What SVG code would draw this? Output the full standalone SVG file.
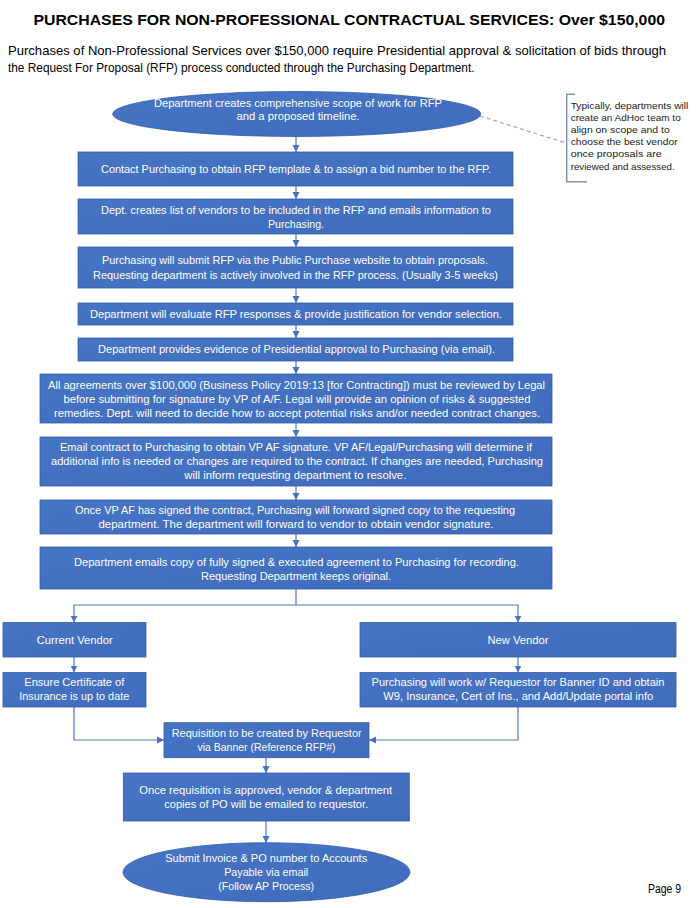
<svg xmlns="http://www.w3.org/2000/svg" width="700" height="908" viewBox="0 0 700 908">
<defs>
<marker id="ah" markerUnits="userSpaceOnUse" markerWidth="8" markerHeight="8" refX="7" refY="4" orient="auto">
<path d="M0,0.5 L7,4 L0,7.5 z" fill="#4472C4"/>
</marker>
<linearGradient id="g" x1="0" y1="0" x2="1" y2="1">
<stop offset="0" stop-color="#4775C6"/>
<stop offset="1" stop-color="#3F6BBC"/>
</linearGradient>
</defs>
<style>
.box{fill:url(#g);stroke:#345DA5;stroke-width:0.8}
.t{font-family:"Liberation Sans",Arial,sans-serif;font-size:10.5px;fill:#ffffff;text-anchor:middle}
.c{stroke:#4F78C2;stroke-width:1.2;fill:none}
.ca{stroke:#4F78C2;stroke-width:1.2;fill:none;marker-end:url(#ah)}
.h{font-family:"Liberation Sans",Arial,sans-serif;fill:#000}
.n{font-family:"Liberation Sans",Arial,sans-serif;font-size:9.8px;fill:#222}
</style>
<rect width="700" height="908" fill="#ffffff"/>
<text class="h" x="33.5" y="25" font-size="15.5" font-weight="bold" textLength="631.5" lengthAdjust="spacingAndGlyphs">PURCHASES FOR NON-PROFESSIONAL CONTRACTUAL SERVICES: Over $150,000</text>
<text class="h" x="8" y="55" font-size="12.8" fill="#111" textLength="658" lengthAdjust="spacingAndGlyphs">Purchases of Non-Professional Services over $150,000 require Presidential approval &amp; solicitation of bids through</text>
<text class="h" x="8" y="72" font-size="12.8" fill="#111" textLength="466.5" lengthAdjust="spacingAndGlyphs">the Request For Proposal (RFP) process conducted through the Purchasing Department.</text>

<g id="connectors">
<line class="ca" x1="296" y1="136.5" x2="296" y2="152"/>
<line class="ca" x1="296" y1="186" x2="296" y2="199"/>
<line class="ca" x1="296" y1="234" x2="296" y2="247"/>
<line class="ca" x1="296" y1="288" x2="296" y2="303"/>
<line class="ca" x1="296" y1="325" x2="296" y2="338"/>
<line class="ca" x1="296" y1="361" x2="296" y2="374"/>
<line class="ca" x1="296" y1="423" x2="296" y2="437"/>
<line class="ca" x1="296" y1="486" x2="296" y2="500"/>
<line class="ca" x1="296" y1="534" x2="296" y2="547"/>
<polyline class="c" points="296,589 296,605"/>
<polyline class="ca" points="296,605 74,605 74,622.5"/>
<polyline class="ca" points="296,605 518,605 518,622.5"/>
<line class="ca" x1="74" y1="657" x2="74" y2="672.5"/>
<line class="ca" x1="518" y1="657" x2="518" y2="672.5"/>
<polyline class="ca" points="74,707 74,740 164,740"/>
<polyline class="ca" points="518,707 518,740 369,740"/>
<line class="ca" x1="266" y1="758" x2="266" y2="773"/>
<line class="ca" x1="266" y1="821" x2="266" y2="843"/>
<line x1="480" y1="116" x2="566" y2="143" stroke="#8FA8D6" stroke-width="1.2" stroke-dasharray="4,3"/>
</g>

<g id="n1">
<ellipse class="box" cx="296.7" cy="114" rx="184" ry="22.5"/>
<text class="t" x="298" y="107" textLength="288" lengthAdjust="spacingAndGlyphs">Department creates comprehensive scope of work for RFP</text>
<text class="t" x="298" y="120" textLength="123" lengthAdjust="spacingAndGlyphs">and a proposed timeline.</text>
</g>
<g id="note">
<path d="M575,94.3 L566.7,94.3 L566.7,181.7 L587,181.7" fill="none" stroke="#8497B0" stroke-width="1.5"/>
<text class="n" x="570.7" y="108.5" textLength="117.6" lengthAdjust="spacingAndGlyphs">Typically, departments will</text>
<text class="n" x="570.7" y="120.7" textLength="110" lengthAdjust="spacingAndGlyphs">create an AdHoc team to</text>
<text class="n" x="570.7" y="132.9" textLength="99" lengthAdjust="spacingAndGlyphs">align on scope and to</text>
<text class="n" x="570.7" y="145.1" textLength="107" lengthAdjust="spacingAndGlyphs">choose the best vendor</text>
<text class="n" x="570.7" y="157.3" textLength="91" lengthAdjust="spacingAndGlyphs">once proposals are</text>
<text class="n" x="570.7" y="169.5" textLength="104" lengthAdjust="spacingAndGlyphs">reviewed and assessed.</text>
</g>
<g id="n2">
<rect class="box" x="78" y="152" width="435" height="34"/>
<text class="t" x="296" y="173" textLength="390" lengthAdjust="spacingAndGlyphs">Contact Purchasing to obtain RFP template &amp; to assign a bid number to the RFP.</text>
</g>
<g id="n3">
<rect class="box" x="78" y="199" width="435" height="35"/>
<text class="t" x="296" y="213.7" textLength="390" lengthAdjust="spacingAndGlyphs">Dept. creates list of vendors to be included in the RFP and emails information to</text>
<text class="t" x="296" y="228" textLength="56" lengthAdjust="spacingAndGlyphs">Purchasing.</text>
</g>
<g id="n4">
<rect class="box" x="78" y="247" width="435" height="41"/>
<text class="t" x="295" y="263.7" textLength="386" lengthAdjust="spacingAndGlyphs">Purchasing will submit RFP via the Public Purchase website to obtain proposals.</text>
<text class="t" x="295.5" y="278.7" textLength="405" lengthAdjust="spacingAndGlyphs">Requesting department is actively involved in the RFP process.  (Usually 3-5 weeks)</text>
</g>
<g id="n5">
<rect class="box" x="78" y="303" width="435" height="22"/>
<text class="t" x="296" y="317.7" textLength="412" lengthAdjust="spacingAndGlyphs">Department will evaluate RFP responses &amp; provide justification for vendor selection.</text>
</g>
<g id="n6">
<rect class="box" x="78" y="338" width="435" height="23"/>
<text class="t" x="296.5" y="352.7" textLength="397" lengthAdjust="spacingAndGlyphs">Department provides evidence of Presidential approval to Purchasing (via email).</text>
</g>
<g id="n7">
<rect class="box" x="40" y="374" width="512" height="49"/>
<text class="t" x="296.5" y="388.7" textLength="497" lengthAdjust="spacingAndGlyphs">All agreements over $100,000 (Business Policy 2019:13 [for Contracting]) must be reviewed by Legal</text>
<text class="t" x="297" y="403" textLength="467" lengthAdjust="spacingAndGlyphs">before submitting for signature by VP of A/F.  Legal will provide an opinion of risks &amp; suggested</text>
<text class="t" x="297" y="417" textLength="486" lengthAdjust="spacingAndGlyphs">remedies.  Dept. will need to decide how to accept potential risks and/or needed contract changes.</text>
</g>
<g id="n8">
<rect class="box" x="40" y="437" width="512" height="49"/>
<text class="t" x="296" y="450.5" textLength="472" lengthAdjust="spacingAndGlyphs">Email contract to Purchasing to obtain VP AF signature. VP AF/Legal/Purchasing will determine if</text>
<text class="t" x="297" y="464.8" textLength="492" lengthAdjust="spacingAndGlyphs">additional info is needed or changes are required to the contract.  If changes are needed, Purchasing</text>
<text class="t" x="295.3" y="479" textLength="222" lengthAdjust="spacingAndGlyphs">will inform requesting department to resolve.</text>
</g>
<g id="n9">
<rect class="box" x="40" y="500" width="512" height="34"/>
<text class="t" x="295" y="513.7" textLength="440" lengthAdjust="spacingAndGlyphs">Once VP AF has signed the contract, Purchasing will forward signed copy to the requesting</text>
<text class="t" x="296" y="527.7" textLength="395" lengthAdjust="spacingAndGlyphs">department.  The department will forward to vendor to obtain vendor signature.</text>
</g>
<g id="n10">
<rect class="box" x="40" y="547" width="512" height="42"/>
<text class="t" x="296.5" y="565.7" textLength="445" lengthAdjust="spacingAndGlyphs">Department emails copy of fully signed &amp; executed agreement to Purchasing for recording.</text>
<text class="t" x="296" y="580" textLength="190" lengthAdjust="spacingAndGlyphs">Requesting Department keeps original.</text>
</g>
<g id="n11">
<rect class="box" x="3" y="622.5" width="143" height="34.5"/>
<text class="t" x="74.7" y="643.7" textLength="76" lengthAdjust="spacingAndGlyphs">Current Vendor</text>
</g>
<g id="n12">
<rect class="box" x="360" y="622.5" width="316" height="34.5"/>
<text class="t" x="518" y="643.7" textLength="61" lengthAdjust="spacingAndGlyphs">New Vendor</text>
</g>
<g id="n13">
<rect class="box" x="3" y="672.5" width="143" height="34.5"/>
<text class="t" x="74.3" y="686" textLength="100" lengthAdjust="spacingAndGlyphs">Ensure Certificate of</text>
<text class="t" x="74.3" y="700.4" textLength="110" lengthAdjust="spacingAndGlyphs">Insurance is up to date</text>
</g>
<g id="n14">
<rect class="box" x="360" y="672.5" width="316" height="34.5"/>
<text class="t" x="518" y="686.4" textLength="293" lengthAdjust="spacingAndGlyphs">Purchasing will work w/ Requestor for Banner ID and obtain</text>
<text class="t" x="518.3" y="700.4" textLength="270" lengthAdjust="spacingAndGlyphs">W9, Insurance, Cert of Ins., and Add/Update portal info</text>
</g>
<g id="n15">
<rect class="box" x="164" y="722.7" width="205" height="35"/>
<text class="t" x="266.7" y="737" textLength="190" lengthAdjust="spacingAndGlyphs">Requisition to be created by Requestor</text>
<text class="t" x="266.5" y="751.4" textLength="138" lengthAdjust="spacingAndGlyphs">via Banner (Reference RFP#)</text>
</g>
<g id="n16">
<rect class="box" x="123.3" y="773" width="286" height="48"/>
<text class="t" x="265.7" y="793.7" textLength="253" lengthAdjust="spacingAndGlyphs">Once requisition is approved, vendor &amp; department</text>
<text class="t" x="266.2" y="808" textLength="204" lengthAdjust="spacingAndGlyphs">copies of PO will be emailed to requestor.</text>
</g>
<g id="n17">
<ellipse class="box" cx="266.5" cy="872.2" rx="143.5" ry="29.5"/>
<text class="t" x="266.2" y="862" textLength="202" lengthAdjust="spacingAndGlyphs">Submit Invoice &amp; PO number to Accounts</text>
<text class="t" x="266.2" y="876.4" textLength="84" lengthAdjust="spacingAndGlyphs">Payable via email</text>
<text class="t" x="266.2" y="890.4" textLength="96" lengthAdjust="spacingAndGlyphs">(Follow AP Process)</text>
</g>
<text class="h" x="648" y="893" font-size="12.5" textLength="33" lengthAdjust="spacingAndGlyphs">Page 9</text>
</svg>
